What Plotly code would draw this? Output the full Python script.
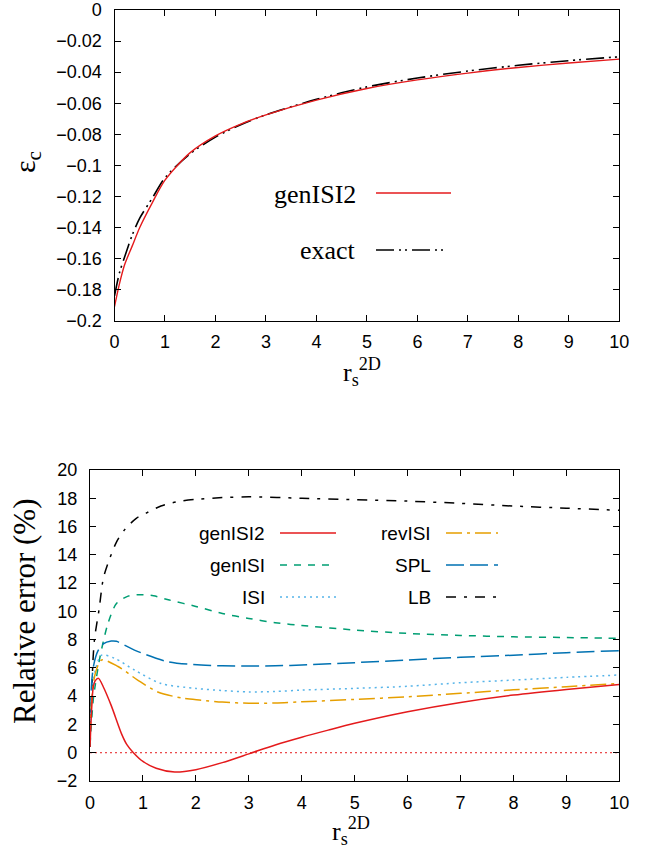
import plotly.graph_objects as go

W, H = 662, 852

# ---------------- data: top panel (correlation energy) ----------------
rs_top = [0, 0.1, 0.2, 0.35, 0.5, 0.75, 1, 1.5, 2, 2.5, 3, 4, 5, 6, 7, 8, 9, 10]
exact_ec = [-0.184, -0.169, -0.159, -0.145, -0.134, -0.121, -0.108, -0.0925, -0.0818,
            -0.0738, -0.0675, -0.0575, -0.0495, -0.0438, -0.0393, -0.0356, -0.0326, -0.0301]
genISI2_ec = [-0.191, -0.176, -0.164, -0.152, -0.140, -0.124, -0.1095, -0.0918, -0.0810,
              -0.0734, -0.0675, -0.0580, -0.0505, -0.0450, -0.0406, -0.0370, -0.0341, -0.0316]

# ---------------- data: bottom panel (relative error, %) ----------------
rs_red = [0, 0.03, 0.06, 0.1, 0.16, 0.25, 0.4, 0.6, 0.7, 0.82, 1, 1.25, 1.6, 2, 2.5, 3, 3.5, 4, 4.5, 5, 6, 7, 8, 9, 10]
err_genISI2 = [0.4, 3.0, 4.6, 5.1, 5.26, 4.67, 3.35, 1.3, 0.55, 0.0, -0.62, -1.1, -1.37, -1.2, -0.7, -0.08,
               0.55, 1.1, 1.6, 2.08, 2.9, 3.56, 4.08, 4.48, 4.83]

rs_gen = [0, 0.06, 0.1, 0.19, 0.34, 0.5, 0.72, 1.0, 1.2, 1.5, 2, 2.5, 3, 3.5, 4, 5, 6, 7, 8, 9, 10]
err_genISI = [0.5, 3.7, 4.8, 6.8, 9.15, 10.55, 11.08, 11.18, 11.1, 10.8, 10.35, 9.85, 9.5, 9.2,
              9.0, 8.68, 8.44, 8.3, 8.2, 8.15, 8.09]

rs_b = [0, 0.03, 0.07, 0.15, 0.25, 0.4, 0.5, 0.84, 1.47, 2.1, 2.5, 3, 3.5, 4, 5, 6, 7, 8, 9, 10]
err_SPL = [1.0, 4.9, 6.2, 7.2, 7.7, 7.9, 7.88, 7.26, 6.44, 6.2, 6.15, 6.13, 6.15, 6.2, 6.37,
           6.56, 6.75, 6.9, 7.08, 7.22]

rs_i = [0, 0.03, 0.1, 0.22, 0.47, 0.84, 1.34, 2, 2.5, 3, 3.5, 4, 5, 6, 7, 8, 9, 10]
err_ISI = [1.0, 3.8, 5.85, 6.9, 6.67, 5.85, 4.9, 4.55, 4.4, 4.3, 4.33, 4.43, 4.55, 4.7,
           4.95, 5.14, 5.33, 5.5]

rs_rev = [0, 0.03, 0.1, 0.22, 0.53, 0.9, 1.28, 1.78, 2.1, 2.5, 3, 3.5, 4, 5, 6, 7, 8, 9, 10]
err_revISI = [1.0, 3.6, 5.6, 6.56, 6.1, 5.14, 4.3, 3.84, 3.72, 3.58, 3.5, 3.52, 3.6, 3.77, 3.96,
              4.2, 4.45, 4.67, 4.9]

rs_lb = [0, 0.03, 0.06, 0.09, 0.17, 0.25, 0.33, 0.5, 0.66, 0.88, 1.06, 1.34, 1.66, 2, 2.5, 3, 4, 5, 6, 7, 8, 9, 10]
err_LB = [0.4, 4.0, 6.8, 8.2, 10.1, 12.3, 13.3, 14.9, 15.8, 16.6, 16.95, 17.45, 17.76, 17.92, 18.05,
          18.1, 18.0, 17.9, 17.8, 17.64, 17.45, 17.3, 17.15]

zero_x = [0, 10]
zero_y = [0, 0]

top_yticks = [0, -0.02, -0.04, -0.06, -0.08, -0.1, -0.12, -0.14, -0.16, -0.18, -0.2]
top_yticktext = ["0", "\u22120.02", "\u22120.04", "\u22120.06", "\u22120.08", "\u22120.1",
                 "\u22120.12", "\u22120.14", "\u22120.16", "\u22120.18", "\u22120.2"]
bot_yticks = [-2, 0, 2, 4, 6, 8, 10, 12, 14, 16, 18, 20]
bot_yticktext = ["\u22122", "0", "2", "4", "6", "8", "10", "12", "14", "16", "18", "20"]
xticks = [0, 1, 2, 3, 4, 5, 6, 7, 8, 9, 10]

# ---------------- styles ----------------
RED = "#e41a1c"
GREEN = "#009e73"
LBLUE = "#56b4e9"
ORANGE = "#e69f00"
BLUE = "#0072b2"
BLACK = "#000000"

DASH_EXACT = "18px,5px,2px,4px,2px,5px"
DASH_GEN = "7px,7px"
DASH_ISI = "2px,4px"
DASH_REV = "16px,5px,3px,5px"
DASH_SPL = "18px,6px"
DASH_LB = "10px,8px,3px,8px"


def fx(px):
    return px / W


def fy(py):
    return 1 - py / H


fig = go.Figure()

spl = dict(shape="spline", smoothing=0.8)

# top panel traces
fig.add_trace(go.Scatter(x=rs_top, y=exact_ec, mode="lines", xaxis="x", yaxis="y",
                         line=dict(color=BLACK, width=1.6, dash=DASH_EXACT, **spl), showlegend=False))
fig.add_trace(go.Scatter(x=rs_top, y=genISI2_ec, mode="lines", xaxis="x", yaxis="y",
                         line=dict(color=RED, width=1.4, **spl), showlegend=False))

# bottom panel traces
fig.add_trace(go.Scatter(x=zero_x, y=zero_y, mode="lines", xaxis="x2", yaxis="y2",
                         line=dict(color=RED, width=1, dash="2px,3px"), showlegend=False))
fig.add_trace(go.Scatter(x=rs_lb, y=err_LB, mode="lines", xaxis="x2", yaxis="y2",
                         line=dict(color=BLACK, width=1.5, dash=DASH_LB, **spl), showlegend=False))
fig.add_trace(go.Scatter(x=rs_gen, y=err_genISI, mode="lines", xaxis="x2", yaxis="y2",
                         line=dict(color=GREEN, width=1.5, dash=DASH_GEN, **spl), showlegend=False))
fig.add_trace(go.Scatter(x=rs_b, y=err_SPL, mode="lines", xaxis="x2", yaxis="y2",
                         line=dict(color=BLUE, width=1.5, dash=DASH_SPL, **spl), showlegend=False))
fig.add_trace(go.Scatter(x=rs_i, y=err_ISI, mode="lines", xaxis="x2", yaxis="y2",
                         line=dict(color=LBLUE, width=1.5, dash=DASH_ISI, **spl), showlegend=False))
fig.add_trace(go.Scatter(x=rs_rev, y=err_revISI, mode="lines", xaxis="x2", yaxis="y2",
                         line=dict(color=ORANGE, width=1.5, dash=DASH_REV, **spl), showlegend=False))
fig.add_trace(go.Scatter(x=rs_red, y=err_genISI2, mode="lines", xaxis="x2", yaxis="y2",
                         line=dict(color=RED, width=1.5, **spl), showlegend=False))

SANS = "Liberation Sans, Arial, sans-serif"
SERIF = "Liberation Serif, Times New Roman, serif"

axis_common = dict(showline=True, linecolor="black", linewidth=1.2, mirror="ticks",
                   ticks="inside", ticklen=6, tickwidth=1, tickcolor="black",
                   showgrid=False, zeroline=False, automargin=False,
                   tickfont=dict(family=SANS, size=18, color="black"))

top_l, top_r, top_t, top_b = 114.5, 619.3, 10, 320.7
bot_l, bot_r, bot_t, bot_b = 90, 619.3, 470, 781

fig.update_layout(
    template="none",
    width=W, height=H,
    margin=dict(l=0, r=0, t=0, b=0),
    paper_bgcolor="white", plot_bgcolor="white",
    xaxis=dict(domain=[fx(top_l), fx(top_r)], range=[0, 10], tickvals=xticks, anchor="y",
               ticklabelstandoff=5, **axis_common),
    yaxis=dict(domain=[fy(top_b), fy(top_t)], range=[-0.2, 0], tickvals=top_yticks,
               ticktext=top_yticktext, anchor="x", ticklabelstandoff=8, **axis_common),
    xaxis2=dict(domain=[fx(bot_l), fx(bot_r)], range=[0, 10], tickvals=xticks, anchor="y2",
                ticklabelstandoff=5, **axis_common),
    yaxis2=dict(domain=[fy(bot_b), fy(bot_t)], range=[-2, 20], tickvals=bot_yticks,
                ticktext=bot_yticktext, anchor="x2", ticklabelstandoff=8, **axis_common),
)

annotations = []
shapes = []


def ann(x, y, text, font, xanchor="center", yanchor="middle", angle=0):
    annotations.append(dict(x=fx(x), y=fy(y), xref="paper", yref="paper", showarrow=False,
                            xanchor=xanchor, yanchor=yanchor, text=text, textangle=angle,
                            font=font))


# axis titles
ann(27, 162, "\u03b5<sub>c</sub>", dict(family=SERIF, size=30, color="black"), angle=-90)
ann(362, 372, "r<sub>s</sub><sup>2D</sup>", dict(family=SERIF, size=26, color="black"))
ann(24, 611, "Relative error (%)", dict(family=SERIF, size=31, color="black"), angle=-90)
ann(351, 831, "r<sub>s</sub><sup>2D</sup>", dict(family=SERIF, size=26, color="black"))

# top legend (text left of line samples, gnuplot style)
top_leg = [("genISI2", RED, "solid", 194, 451), ("exact", BLACK, DASH_EXACT, 251, 447)]
for name, col, dash, yy, x_end in top_leg:
    ann(358, yy, name, dict(family=SERIF, size=26, color="black"), xanchor="right")
    shapes.append(dict(type="line", xref="paper", yref="paper", x0=fx(376), x1=fx(x_end),
                       y0=fy(yy - 1), y1=fy(yy - 1), line=dict(color=col, width=1.6, dash=dash)))

# bottom legend
bot_leg = [
    ("genISI2", RED, "solid", 267, 280, 336, 533),
    ("genISI", GREEN, DASH_GEN, 267, 280, 336, 565),
    ("ISI", LBLUE, DASH_ISI, 267, 280, 336, 597),
    ("revISI", ORANGE, DASH_REV, 433, 446, 498, 533),
    ("SPL", BLUE, DASH_SPL, 433, 446, 498, 565),
    ("LB", BLACK, DASH_LB, 433, 446, 498, 597),
]
for name, col, dash, xt, x0, x1, yy in bot_leg:
    ann(xt, yy, name, dict(family=SANS, size=19, color="black"), xanchor="right")
    shapes.append(dict(type="line", xref="paper", yref="paper", x0=fx(x0), x1=fx(x1),
                       y0=fy(yy), y1=fy(yy), line=dict(color=col, width=1.6, dash=dash)))

fig.update_layout(annotations=annotations, shapes=shapes)

# remove the default page margin so the figure sits at the window's top-left corner
fig.write_html("out.html", config={"displayModeBar": False},
               post_script="document.body.style.margin='0px';document.body.style.overflow='hidden';")
